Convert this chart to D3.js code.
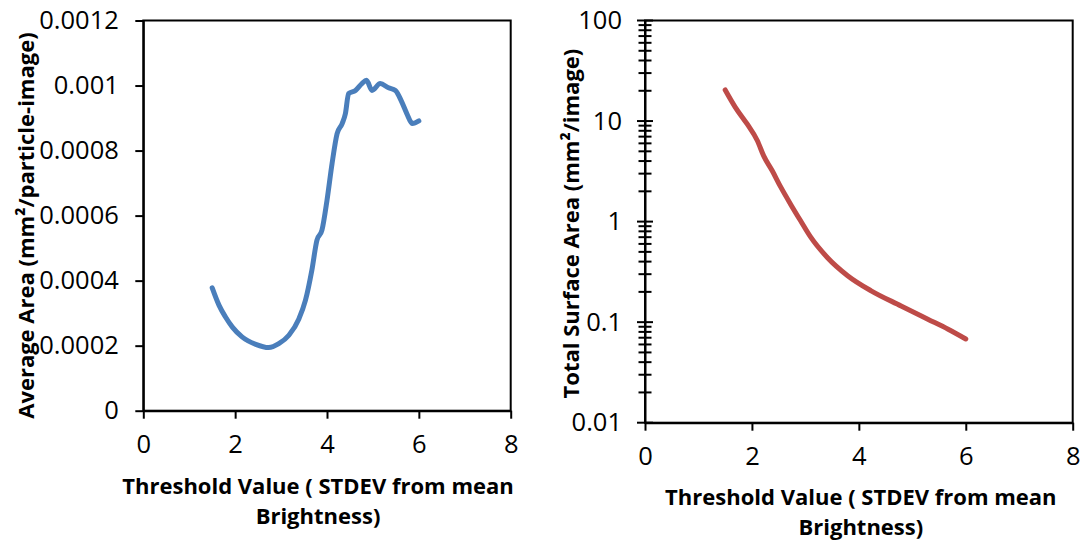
<!DOCTYPE html>
<html>
<head>
<meta charset="utf-8">
<script src="https://cdnjs.cloudflare.com/ajax/libs/d3/7.8.5/d3.min.js"></script>
<style>
    body { margin: 0; background: #fff; }
    svg text { font-family: "Open Sans", sans-serif; fill: #000; }
    .axis path, .axis line { stroke: #000; stroke-width: 2px; }
</style>
</head>
<body>
<svg id="chart" width="1085" height="543"></svg>
<script>
// left panel: average area per particle
var avgThreshold = [1.5, 1.65, 1.79, 1.94, 2.15, 2.45, 2.73, 2.95, 3.17, 3.39, 3.53, 3.67, 3.78, 3.89, 4.0, 4.11,
    4.22, 4.33, 4.4, 4.47, 4.62, 4.76, 4.86, 4.98, 5.16, 5.34, 5.49, 5.63, 5.74, 5.86, 6.0];
var avgArea = [0.000378, 0.000324, 0.000288, 0.000257, 0.000227, 0.000204, 0.000194, 0.000206, 0.000232, 0.000283,
    0.000339, 0.000432, 0.000524, 0.000555, 0.000647, 0.00076, 0.000852, 0.000883, 0.000913, 0.000975, 0.000985,
    0.001006, 0.001016, 0.000985, 0.001006, 0.000993, 0.000985, 0.000949, 0.000913, 0.000883, 0.000891];

// right panel: total surface area
var totThreshold = [1.5, 1.69, 1.91, 2.1, 2.22, 2.38, 2.54, 2.72, 2.91, 3.1, 3.41, 3.79, 4.23, 4.79, 5.29, 5.67, 6.0];
var totArea = [20.4, 13.7, 9.35, 6.4, 4.5, 3.2, 2.2, 1.5, 1.02, 0.7, 0.44, 0.29, 0.205, 0.145, 0.107, 0.085, 0.068];

var xTicks = [0, 2, 4, 6, 8];
var avgTicks = [0, 0.0002, 0.0004, 0.0006, 0.0008, 0.001, 0.0012];
var avgTickLabels = ["0", "0.0002", "0.0004", "0.0006", "0.0008", "0.001", "0.0012"];
var totTicks = [0.01, 0.1, 1, 10, 100];
var totTickLabels = ["0.01", "0.1", "1", "10", "100"];

var xTitle = ["Threshold Value ( STDEV from mean", "Brightness)"];
var avgTitle = "Average Area (mm\u00B2/particle-image)";
var totTitle = "Total Surface Area (mm\u00B2/image)";

var svg = d3.select("#chart");
var tickFont = 25.5, titleFont = 22;

function drawPanel(opt) {
    var g = svg.append("g").attr("transform", "translate(" + opt.left + "," + opt.top + ")");
    var x = d3.scaleLinear().domain([0, 8]).range([0, opt.width]);
    var y = opt.y.range([opt.height, 0]);

    // frame
    g.append("rect")
        .attr("width", opt.width).attr("height", opt.height)
        .attr("fill", "none").attr("stroke", "#000").attr("stroke-width", 2);

    // x axis
    var xa = g.append("g").attr("class", "axis")
        .attr("transform", "translate(0," + opt.height + ")")
        .call(d3.axisBottom(x).tickValues(xTicks).tickFormat(d3.format("d"))
            .tickSize(8).tickSizeOuter(0).tickPadding(16.5));
    xa.selectAll("text").style("font-size", tickFont + "px");

    // y axis
    var ya = g.append("g").attr("class", "axis")
        .call(d3.axisLeft(y).tickValues(opt.ticks)
            .tickFormat(function (d, i) { return opt.labels[i]; })
            .tickSize(opt.crossTicks ? 0 : 8).tickSizeOuter(0)
            .tickPadding(opt.crossTicks ? 23 : 16.5));
    ya.selectAll("text").style("font-size", tickFont + "px");

    if (opt.crossTicks) {
        // log axis: major and minor ticks crossing the axis
        var minor = [];
        opt.ticks.slice(0, -1).forEach(function (d) {
            for (var k = 2; k <= 9; k++) minor.push(d * k);
        });
        g.selectAll(".major-tick").data(opt.ticks).enter().append("line")
            .attr("x1", -8).attr("x2", 8)
            .attr("y1", function (d) { return y(d); }).attr("y2", function (d) { return y(d); })
            .attr("stroke", "#000").attr("stroke-width", 2);
        g.selectAll(".minor-tick").data(minor).enter().append("line")
            .attr("x1", -6.5).attr("x2", 6.5)
            .attr("y1", function (d) { return y(d); }).attr("y2", function (d) { return y(d); })
            .attr("stroke", "#000").attr("stroke-width", 2);
    }

    // series line
    var line = d3.line()
        .x(function (d) { return x(d[0]); })
        .y(function (d) { return y(d[1]); })
        .curve(d3.curveMonotoneX);
    g.append("path")
        .datum(d3.zip(opt.xs, opt.ys))
        .attr("d", line)
        .attr("fill", "none")
        .attr("stroke", opt.color)
        .attr("stroke-width", 5)
        .attr("stroke-linecap", "round")
        .attr("stroke-linejoin", "round");

    // x title (two lines)
    var xt = g.append("text")
        .attr("text-anchor", "middle")
        .style("font-size", titleFont + "px").style("font-weight", "bold");
    xTitle.forEach(function (t, i) {
        xt.append("tspan")
            .attr("x", opt.width / 2 + opt.xTitleShift)
            .attr("y", opt.xTitleY + i * 30)
            .text(t);
    });

    // y title
    g.append("text")
        .attr("transform", "translate(" + opt.yTitleX + "," + (opt.height / 2 + opt.yTitleShift) + ") rotate(-90)")
        .attr("text-anchor", "middle")
        .attr("dominant-baseline", "central")
        .style("font-size", titleFont + "px").style("font-weight", "bold")
        .text(opt.title);
}

drawPanel({
    left: 143.3, top: 20.5, width: 367.4, height: 390.2,
    y: d3.scaleLinear().domain([0, 0.0012]),
    ticks: avgTicks, labels: avgTickLabels, crossTicks: false,
    xs: avgThreshold, ys: avgArea, color: "#4A7EBB",
    title: avgTitle, yTitleX: -118, yTitleShift: 10,
    xTitleY: 473, xTitleShift: -9
});

drawPanel({
    left: 645, top: 20.5, width: 427.7, height: 402.2,
    y: d3.scaleLog().domain([0.01, 100]),
    ticks: totTicks, labels: totTickLabels, crossTicks: true,
    xs: totThreshold, ys: totArea, color: "#BE4B48",
    title: totTitle, yTitleX: -75, yTitleShift: 2,
    xTitleY: 484, xTitleShift: 2
});
</script>
</body>
</html>
